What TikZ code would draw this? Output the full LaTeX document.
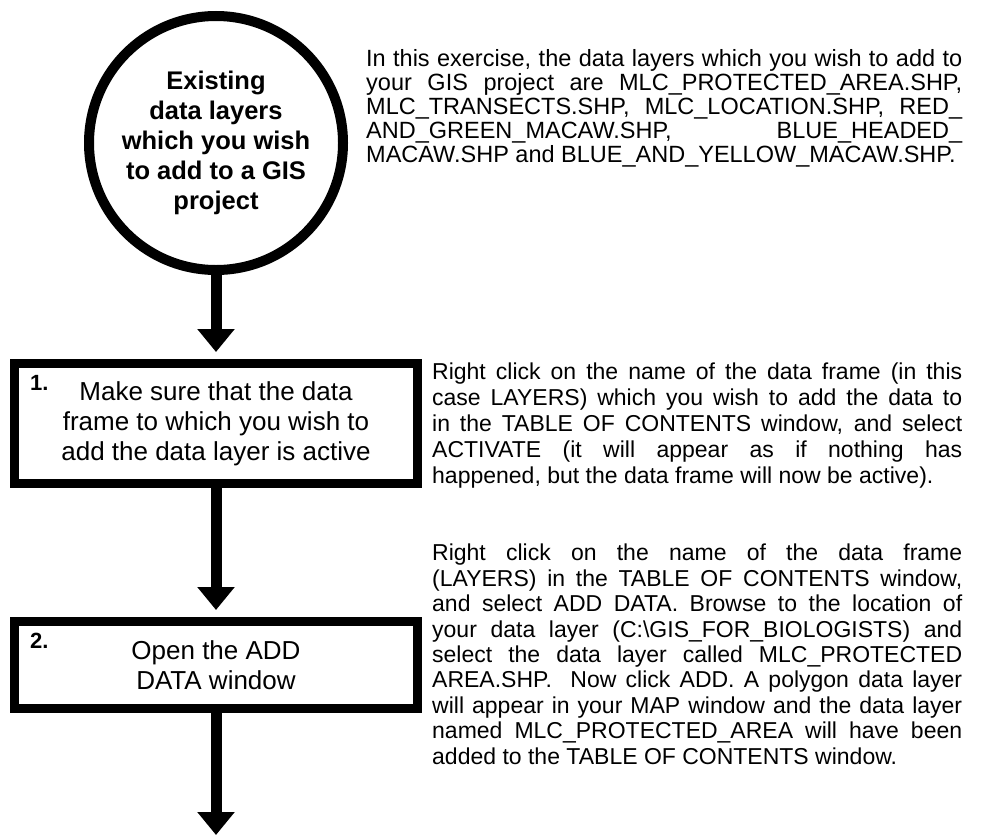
\documentclass[tikz,border=0pt]{standalone}
\usepackage{fontspec}
\setmainfont{Liberation Sans}
\usetikzlibrary{arrows.meta}
\begin{document}
\begin{tikzpicture}[x=1pt, y=-1pt]
  \useasboundingbox (0, 0) rectangle (990, 835);  % Feste Bildgroesse.
  \tikzstyle{start}=[circle, draw, line width=10pt, minimum size=254pt, inner sep=0pt, align=center, font=\fontsize{25.5}{30}\selectfont\bfseries]
  \tikzstyle{stepbox}=[rectangle, draw, line width=9pt, minimum width=403pt, inner sep=0pt, align=center, font=\fontsize{26}{30}\selectfont]
  \tikzstyle{number}=[anchor=north west, inner sep=0pt, font=\fontsize{22}{22}\selectfont\bfseries]
  \tikzstyle{note}=[anchor=north west, inner sep=0pt, align=justify, font=\fontsize{23.5}{25.5}\selectfont]
  \tikzstyle{flow}=[line width=11pt, -{Triangle[width=36pt, length=23pt]}, shorten >=7pt]

  \node[start] (exist) at (216, 143) {Existing\\data layers\\which you wish\\to add to a GIS\\project};
  \node[stepbox, minimum height=120pt] (box1) at (216, 423.5) {Make sure that the data\\frame to which you wish to\\add the data layer is active};
  \node[stepbox, minimum height=87pt] (box2) at (216, 665) {Open the ADD\\DATA window};
  \coordinate (end) at (216, 835);

  \node[number] (num1) at ([shift={(20pt,-16pt)}]box1.north west) {1.};
  \node[number] (num2) at ([shift={(20pt,-16pt)}]box2.north west) {2.};

  \node[note, text width=596pt, font=\fontsize{23.5}{24}\selectfont] (intro) at (366, 49)
    {In this exercise, the data layers which you wish to add to\linebreak
     your GIS project are MLC\_PROTECTED\_AREA.SHP,\linebreak
     MLC\_TRANSECTS.SHP, MLC\_LOCATION.SHP, RED\_\linebreak
     AND\_GREEN\_MACAW.SHP, BLUE\_HEADED\_\linebreak
     MACAW.SHP and BLUE\_AND\_YELLOW\_MACAW.SHP.};
  \node[note, text width=530pt, font=\fontsize{23}{26}\selectfont] (activate) at (432, 363)
    {Right click on the name of the data frame (in this\linebreak
     case LAYERS) which you wish to add the data to\linebreak
     in the TABLE OF CONTENTS window, and select\linebreak
     ACTIVATE (it will appear as if nothing has\linebreak
     happened, but the data frame will now be active).};
  \node[note, text width=530pt, font=\fontsize{23}{25.4}\selectfont] (adddata) at (432, 544)
    {Right click on the name of the data frame\linebreak
     (LAYERS) in the TABLE OF CONTENTS window,\linebreak
     and select ADD DATA. Browse to the location of\linebreak
     your data layer (C:\textbackslash GIS\_FOR\_BIOLOGISTS) and\linebreak
     select the data layer called MLC\_PROTECTED\linebreak
     AREA.SHP.\ \ Now click ADD. A polygon data layer\linebreak
     will appear in your MAP window and the data layer\linebreak
     named MLC\_PROTECTED\_AREA will have been\linebreak
     added to the TABLE OF CONTENTS window.};

  \path (exist) edge[flow] (box1);
  \path (box1) edge[flow] (box2);
  \path (box2) edge[flow, shorten >=0pt] (end);
\end{tikzpicture}
\end{document}
